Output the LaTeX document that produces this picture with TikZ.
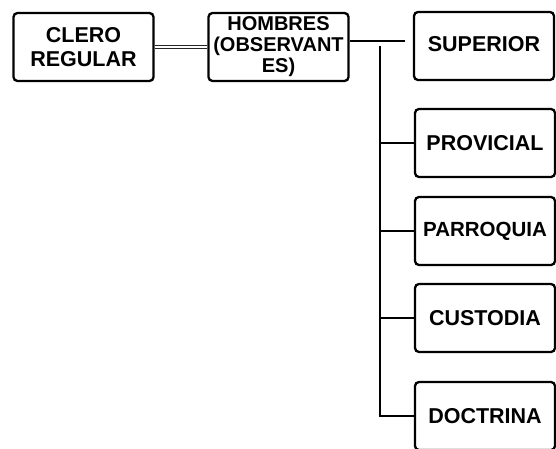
\documentclass[tikz,border=0pt]{standalone}
\usepackage{fontspec}
\setmainfont{Liberation Sans}
\usetikzlibrary{shapes,arrows,calc,positioning}

\begin{document}
\begin{tikzpicture}[x=1pt,y=-1pt]
             \tikzstyle{orgbox} = [draw=black,line width=2.3pt,fill=white,rounded corners=4pt,minimum width=140pt,minimum height=68pt,inner sep=0pt,align=center,font=\bfseries\fontsize{21.5}{24}\selectfont]
             \tikzstyle{link} = [draw=black,line width=1.8pt]
             \tikzstyle{dlink} = [draw=black!85,double=white,line width=1pt,double distance=2.6pt]
		\useasboundingbox (0,0) rectangle (556,449);
		% Top row
		\node[orgbox] at (83.5,47)(clero) {CLERO\\REGULAR};
		\node[orgbox,font=\bfseries\fontsize{20}{21}\selectfont] at (278.5,47)(hombres) {HOMBRES\\(OBSERVANT\\ES)};
		\node[orgbox] at (484,46)(superior) {\raisebox{4pt}{SUPERIOR}};
		% Branches
		\node[orgbox] at (485,143)(provicial) {PROVICIAL};
		\node[orgbox,font=\bfseries\fontsize{20.5}{24}\selectfont] at (485,231)(parroquia) {PARROQUIA};
		\node[orgbox] at (485,318)(custodia) {CUSTODIA};
		\node[orgbox] at (485,416)(doctrina) {DOCTRINA};
		% Connectors
		\draw[dlink] (clero)  -- (hombres);
		\coordinate (hend) at (405,41);
		\draw[link] (hend -| hombres.east)  -- (hend);
		\coordinate (vtop) at (380,46);
		\draw[link] (vtop)  |- (doctrina.west);
		\draw[link] (vtop |- provicial.west)  -- (provicial.west);
		\draw[link] (vtop |- parroquia.west)  -- (parroquia.west);
		\draw[link] (vtop |- custodia.west)  -- (custodia.west);
\end{tikzpicture}
\end{document}
